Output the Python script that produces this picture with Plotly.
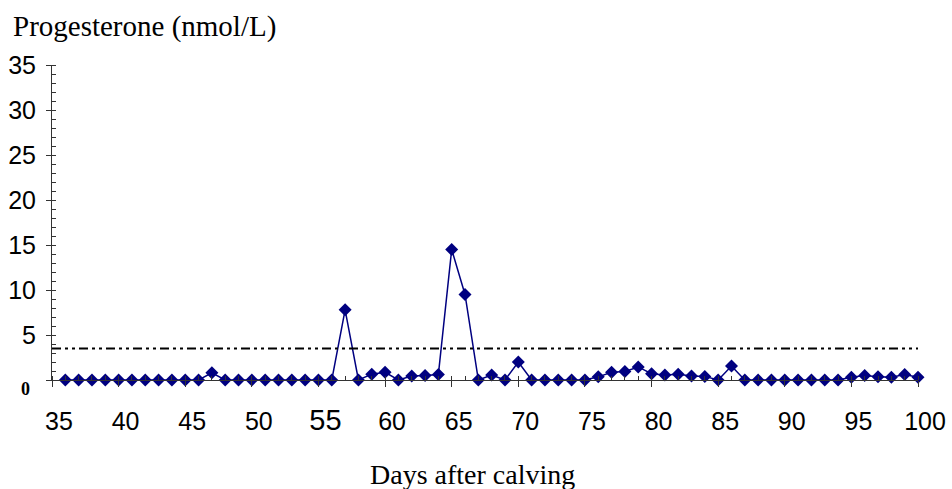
import plotly.graph_objects as go

# ---- data ----
days = list(range(36, 101))
progesterone = [
    0, 0, 0, 0, 0, 0, 0, 0, 0, 0, 0,          # 36-46
    0.8,                                        # 47
    0, 0, 0, 0, 0, 0, 0, 0, 0,                  # 48-56
    7.8,                                        # 57
    0, 0.65, 0.85, 0, 0.45, 0.5, 0.6,           # 58-64
    14.5, 9.5,                                  # 65-66
    0, 0.55, 0, 2.0,                            # 67-70
    0, 0, 0, 0, 0,                              # 71-75
    0.35, 0.85, 0.95, 1.45, 0.7, 0.55, 0.65, 0.45, 0.4,  # 76-84
    0, 1.55,                                    # 85-86
    0, 0, 0, 0, 0, 0, 0, 0,                     # 87-94
    0.3, 0.5, 0.35, 0.3, 0.6, 0.3,              # 95-100
]
threshold = 3.5

x_range = [35, 100]
y_range = [0, 35]
x_tickvals = [35, 40, 45, 50, 55, 60, 65, 70, 75, 80, 85, 90, 95, 100]
x_ticktext = ["35", "40", "45", "50", '<span style="font-size:29px">55</span>',
              "60", "65", "70", "75", "80", "85", "90", "95", "100"]
y_tickvals = [0, 5, 10, 15, 20, 25, 30, 35]
y_ticktext = ["", "5", "10", "15", "20", "25", "30", "35"]

y_title = "Progesterone (nmol/L)"
x_title = "Days after calving"
zero_label = "0"

NAVY = "#000080"
W, H = 952, 489
ML, MR, MT, MB = 52, 34, 65, 109
PW, PH = W - ML - MR, H - MT - MB

def px_x(px):
    return (px - ML) / PW

def px_y(py):
    return (H - MB - py) / PH

fig = go.Figure()
fig.add_trace(go.Scatter(
    x=days, y=progesterone, mode="lines+markers",
    line=dict(color=NAVY, width=1.5),
    marker=dict(symbol="diamond", size=10, color=NAVY),
    cliponaxis=False, showlegend=False,
))

fig.add_shape(type="line", xref="paper", yref="y", x0=0, x1=1,
              y0=threshold, y1=threshold,
              line=dict(color="black", width=2, dash="9px,4px,3px,4px,3px,4px"))

axis_font = dict(family="Liberation Sans, Arial, sans-serif", size=25, color="black")

fig.update_xaxes(
    range=x_range, showline=True, linecolor="#333333", linewidth=1,
    showgrid=False, zeroline=False, automargin=False,
    tickmode="array", tickvals=x_tickvals, ticktext=x_ticktext,
    ticks="outside", ticklen=6, tickcolor="#333333", tickwidth=1,
    minor=dict(tickmode="linear", tick0=35, dtick=1, ticks="inside",
               ticklen=4, tickcolor="#333333", tickwidth=1),
    tickfont=axis_font, ticklabelshift=7, ticklabelstandoff=13,
)
fig.update_yaxes(
    range=y_range, showline=True, linecolor="#333333", linewidth=1,
    showgrid=False, zeroline=False, automargin=False,
    tickmode="array", tickvals=y_tickvals, ticktext=y_ticktext,
    ticks="outside", ticklen=5, tickcolor="#333333", tickwidth=1,
    minor=dict(tickmode="linear", tick0=0, dtick=1, ticks="inside",
               ticklen=4, tickcolor="#333333", tickwidth=1),
    tickfont=axis_font, ticklabelstandoff=5,
)

serif = "Liberation Serif, Times New Roman, serif"
fig.add_annotation(text=y_title, xref="paper", yref="paper",
                   x=px_x(11), y=px_y(26), xanchor="left", yanchor="middle",
                   showarrow=False, font=dict(family=serif, size=29, color="black"))
fig.add_annotation(text=x_title, xref="paper", yref="paper",
                   x=px_x(472), y=px_y(474), xanchor="center", yanchor="middle",
                   showarrow=False, font=dict(family=serif, size=28, color="black"))
fig.add_annotation(text="<b>" + zero_label + "</b>", xref="paper", yref="paper",
                   x=px_x(25), y=px_y(389), xanchor="center", yanchor="middle",
                   showarrow=False, font=dict(family=serif, size=18, color="black"))

fig.update_layout(
    width=W, height=H,
    margin=dict(l=ML, r=MR, t=MT, b=MB),
    paper_bgcolor="white", plot_bgcolor="white",
)

fig.write_html("out.html")
